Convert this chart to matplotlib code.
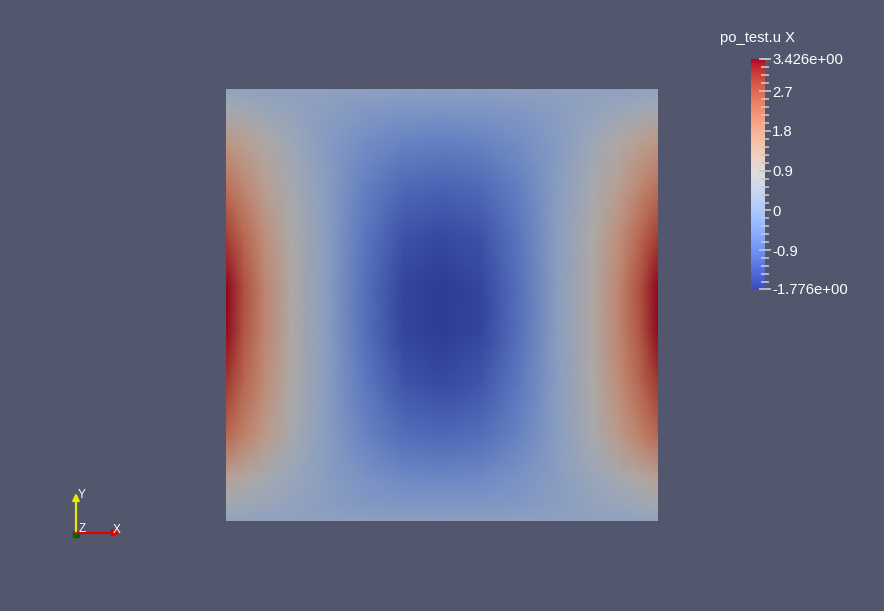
import numpy as np
import matplotlib
matplotlib.use("Agg")
import matplotlib.pyplot as plt
from matplotlib.colors import ListedColormap, Normalize
from matplotlib.ticker import FixedLocator, MultipleLocator

# field samples (po_test.u, X component)
x_nodes = [0.0, 0.04, 0.09, 0.15, 0.23, 0.32, 0.41, 0.5, 0.59, 0.68, 0.77, 0.85, 0.91, 0.96, 1.0]
y_nodes = [0.0, 0.05, 0.12, 0.22, 0.34, 0.46, 0.56, 0.68, 0.8, 0.9, 0.96, 1.0]  # from top
u_x = [
    [0.25, 0.24, 0.22, 0.20, 0.20, 0.18, 0.17, 0.17, 0.17, 0.18, 0.20, 0.20, 0.22, 0.24, 0.25],
    [0.70, 0.60, 0.45, 0.30, 0.10, -0.05, -0.15, -0.18, -0.15, -0.05, 0.10, 0.30, 0.45, 0.60, 0.70],
    [1.45, 1.25, 0.90, 0.50, 0.05, -0.30, -0.55, -0.60, -0.55, -0.30, 0.05, 0.50, 0.90, 1.25, 1.45],
    [2.15, 1.80, 1.25, 0.70, 0.10, -0.60, -1.00, -1.10, -1.00, -0.60, 0.10, 0.70, 1.25, 1.80, 2.15],
    [2.90, 2.35, 1.65, 0.90, 0.15, -0.80, -1.40, -1.55, -1.40, -0.80, 0.15, 0.90, 1.65, 2.35, 2.90],
    [3.40, 2.70, 1.85, 0.95, 0.15, -0.90, -1.60, -1.776, -1.60, -0.90, 0.15, 0.95, 1.85, 2.70, 3.40],
    [3.38, 2.65, 1.85, 0.95, 0.15, -0.90, -1.60, -1.75, -1.60, -0.90, 0.15, 0.95, 1.85, 2.65, 3.38],
    [3.00, 2.40, 1.70, 0.90, 0.12, -0.75, -1.35, -1.55, -1.35, -0.75, 0.12, 0.90, 1.70, 2.40, 3.00],
    [2.35, 1.95, 1.40, 0.75, 0.10, -0.55, -0.95, -1.05, -0.95, -0.55, 0.10, 0.75, 1.40, 1.95, 2.35],
    [1.20, 1.00, 0.70, 0.45, 0.10, -0.20, -0.42, -0.48, -0.42, -0.20, 0.10, 0.45, 0.70, 1.00, 1.20],
    [0.65, 0.55, 0.42, 0.28, 0.10, -0.05, -0.12, -0.15, -0.12, -0.05, 0.10, 0.28, 0.42, 0.55, 0.65],
    [0.25, 0.24, 0.22, 0.20, 0.20, 0.18, 0.17, 0.17, 0.17, 0.18, 0.20, 0.20, 0.22, 0.24, 0.25],
]
u_min, u_max = -1.776, 3.426
bar_ticks = [-1.776, -0.9, 0.0, 0.9, 1.8, 2.7, 3.426]
bar_labels = ["-1.776e+00", "-0.9", "0", "0.9", "1.8", "2.7", "3.426e+00"]
bar_title = "po_test.u X"

bg = "#52576e"
W, H = 884, 611

fig = plt.figure(figsize=(W / 100, H / 100), dpi=100, facecolor=bg)
norm = Normalize(u_min, u_max)

# surface gets dimmed by the lighting in the render
base = plt.cm.coolwarm(np.linspace(0, 1, 256))
lit = base.copy()
lit[:, :3] *= 0.77
lit_cmap = ListedColormap(lit)

ax = fig.add_axes([226 / W, 1 - 521 / H, 432 / W, 432 / H])
X, Y = np.meshgrid(x_nodes, y_nodes)
ax.pcolormesh(X, Y, np.array(u_x), shading="gouraud", cmap=lit_cmap, norm=norm)
ax.set_xlim(0, 1)
ax.set_ylim(1, 0)
ax.set_axis_off()

# scalar bar
cax = fig.add_axes([751 / W, 1 - 289 / H, 14 / W, 230 / H])
sm = plt.cm.ScalarMappable(norm=norm, cmap=ListedColormap(base))
cb = fig.colorbar(sm, cax=cax)
cb.outline.set_visible(False)
cax.yaxis.set_major_locator(FixedLocator(bar_ticks))
cax.yaxis.set_minor_locator(MultipleLocator(0.18))
cax.set_yticklabels(bar_labels)
cax.tick_params(which="major", direction="inout", length=8, width=1.2,
                color="#c8c8c8", labelcolor="white", labelsize=10.7, pad=1.2)
cax.tick_params(which="minor", direction="inout", length=5.5, width=1.2, color="#c8c8c8")
for lbl in cax.get_yticklabels():
    lbl.set_fontfamily("Liberation Sans")
fig.text(758 / W, 1 - 38 / H, bar_title, color="white", fontsize=10.6,
         family="Liberation Sans", ha="center", va="center")

# orientation triad
tax = fig.add_axes([60 / W, 1 - 550 / H, 70 / W, 70 / H])
tax.set_xlim(0, 70)
tax.set_ylim(0, 70)
tax.set_axis_off()
tax.annotate("", xy=(16, 57), xytext=(16, 17),
             arrowprops=dict(arrowstyle="-|>", color="#e8e800", lw=1.6,
                             mutation_scale=10, shrinkA=0, shrinkB=0))
tax.annotate("", xy=(60, 17), xytext=(16, 17),
             arrowprops=dict(arrowstyle="-|>", color="#e00000", lw=1.6,
                             mutation_scale=10, shrinkA=0, shrinkB=0))
tax.plot([16.5], [16.5], marker="s", ms=5, color="#0b5e0b", mec="#0b5e0b")
tax.text(18, 54.5, "Y", color="white", fontsize=8.5, family="Liberation Sans", va="center")
tax.text(19, 21.5, "Z", color="white", fontsize=8.5, family="Liberation Sans", va="center")
tax.text(53, 20, "X", color="white", fontsize=8.5, family="Liberation Sans", va="center")

fig.savefig("out.png", dpi=100, facecolor=bg)
